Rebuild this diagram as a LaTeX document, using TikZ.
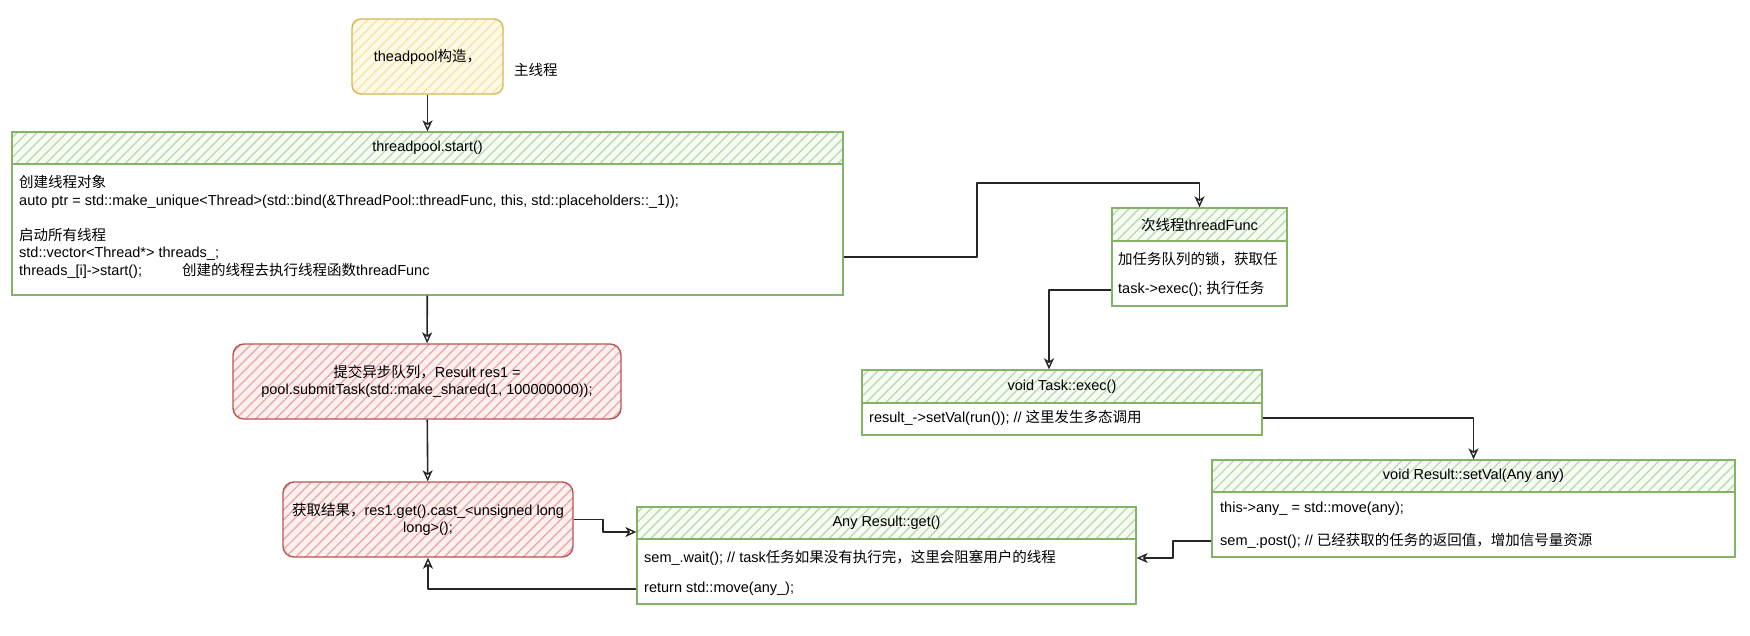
\documentclass[tikz,border=0pt]{standalone}
\usepackage{fontspec}
\setmainfont{Liberation Sans}
\newfontfamily\cjk{Noto Sans CJK SC}
\usetikzlibrary{positioning, arrows.meta, patterns.meta}
\definecolor{ctorline}{HTML}{D6B656}
\definecolor{ctorfill}{HTML}{FFFAE8}
\definecolor{ctorhatch}{HTML}{F7E4A6}
\definecolor{grnline}{HTML}{82B366}
\definecolor{grnfill}{HTML}{F6FBF4}
\definecolor{grnhatch}{HTML}{BCDBAF}
\definecolor{redline}{HTML}{B85450}
\definecolor{redfill}{HTML}{FDF0EF}
\definecolor{redhatch}{HTML}{EDAAA8}

\begin{document}
\begin{tikzpicture}[x=1pt,y=-1pt,font=\fontsize{14.5}{17.5}\selectfont,
    conn/.style={draw=black!85, line width=1.6pt, line join=round,
      -{Stealth[open, length=11pt, width=10pt, inset=3pt, line width=1.4pt]}},
    ctorbox/.style={draw=ctorline, line width=1.4pt, rounded corners=9pt, preaction={fill=ctorfill},
      pattern={Lines[angle=45, distance=7pt, line width=1.4pt]}, pattern color=ctorhatch},
    taskbox/.style={draw=redline, line width=1.4pt, rounded corners=11pt, preaction={fill=redfill},
      pattern={Lines[angle=45, distance=7pt, line width=1.4pt]}, pattern color=redhatch, align=center},
    classbox/.style={draw=grnline, line width=1.3pt, fill=white, inner sep=0pt},
    classhead/.style={draw=grnline, line width=1.3pt, preaction={fill=grnfill},
      pattern={Lines[angle=45, distance=7pt, line width=1.4pt]}, pattern color=grnhatch, inner sep=0pt, anchor=north},
    row/.style={anchor=west, inner sep=0pt},
    plain/.style={inner sep=0pt}]
  \useasboundingbox (0,0) rectangle (1750,635);

  % main thread
  \node[ctorbox, minimum width=151pt, minimum height=75pt] (ctor) at (427.5,56.5) {theadpool{\cjk 构造，}};
  \node[plain, anchor=west] (mainlbl) at (514,70) {\cjk 主线程};

  \node[classbox, minimum width=831pt, minimum height=163pt] (start) at (427.5,213.5) {};
  \node[classhead, minimum width=831pt, minimum height=32pt] (starthd) at (start.north) {threadpool.start()};
  \node[row, align=left] (startrow) at (19,227) {{\cjk 创建线程对象}\\
    auto ptr = std::make\_unique<Thread>(std::bind(\&ThreadPool::threadFunc, this, std::placeholders::\_1));\\
    \mbox{}\\
    {\cjk 启动所有线程}\\
    std::vector<Thread*> threads\_;\\
    \makebox[163pt][l]{threads\_[i]->start();}{\cjk 创建的线程去执行线程函数}threadFunc};

  \node[taskbox, minimum width=388pt, minimum height=75pt] (submit) at (427,381.5)
    {{\cjk 提交异步队列，}Result res1 =\\pool.submitTask(std::make\_shared(1, 100000000));};
  \node[taskbox, minimum width=290pt, minimum height=75pt] (fetch) at (428,519.5)
    {{\cjk 获取结果，}res1.get().cast\_<unsigned long\\long>();};

  % worker thread
  \node[classbox, minimum width=175pt, minimum height=98pt] (func) at (1199.5,257) {};
  \node[classhead, minimum width=175pt, minimum height=33pt] (funchd) at (func.north) {{\cjk 次线程}threadFunc};
  \node[row] (funcrow1) at (1118,259) {\cjk 加任务队列的锁，获取任};
  \node[row] (funcrow2) at (1118,289) {task->exec(); {\cjk 执行任务}};

  \node[classbox, minimum width=400pt, minimum height=65pt] (exec) at (1062,402.5) {};
  \node[classhead, minimum width=400pt, minimum height=33pt] (exechd) at (exec.north) {void Task::exec()};
  \node[row] (execrow) at (869,418) {result\_->setVal(run()); // {\cjk 这里发生多态调用}};

  \node[classbox, minimum width=523pt, minimum height=97pt] (setval) at (1473.5,508.5) {};
  \node[classhead, minimum width=523pt, minimum height=32pt] (setvalhd) at (setval.north) {void Result::setVal(Any any)};
  \node[row] (setvalrow1) at (1220,509) {this->any\_ = std::move(any);};
  \node[row] (setvalrow2) at (1220,541) {sem\_.post(); // {\cjk 已经获取的任务的返回值，增加信号量资源}};

  \node[classbox, minimum width=499pt, minimum height=97pt] (get) at (886.5,555.5) {};
  \node[classhead, minimum width=499pt, minimum height=32pt] (gethd) at (get.north) {Any Result::get()};
  \node[row] (getrow1) at (644,558) {sem\_.wait(); // task{\cjk 任务如果没有执行完，这里会阻塞用户的线程}};
  \node[row] (getrow2) at (644,589) {return std::move(any\_);};

  % connectors
  \draw[conn] (ctor) -- (start);
  \draw[conn] (start) -- (submit);
  \draw[conn] (submit) -- (fetch);
  \draw[conn] (start.east |- 0,257) -- (977,257) -- (977,183) -| (func.north);
  \draw[conn] (func.west |- 0,290) -- (1049,290) -- (exec.north -| 1049,0);
  \draw[conn] (exec.east |- 0,418) -| (setval.north);
  \draw[conn] (setval.west |- 0,541) -- (1173,541) -- (1173,558) -- (get.east |- 0,558);
  \draw[conn] (fetch.east) -- (603,519.5) -- (603,532) -- (get.west |- 0,532);
  \draw[conn] (get.west |- 0,589) -| (fetch.south);
\end{tikzpicture}
\end{document}
